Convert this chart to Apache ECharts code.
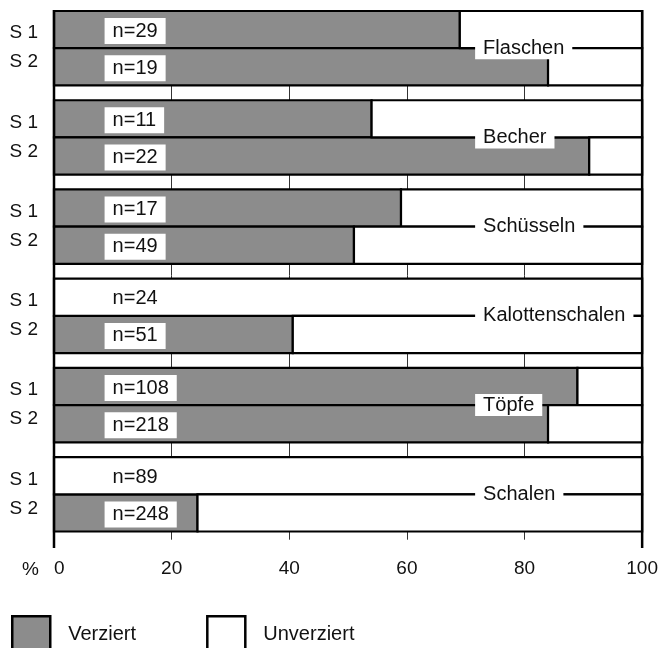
<!DOCTYPE html>
<html>
<head>
<meta charset="utf-8">
<script src="https://cdn.jsdelivr.net/npm/echarts@6/dist/echarts.min.js"></script>
<style>
html,body{margin:0;padding:0;background:#fff;}
#chart{width:661px;height:648px;}
</style>
</head>
<body>
<div id="chart"></div>
<script>
// ---- data ----
const categories = ['Flaschen', 'Becher', 'Schüsseln', 'Kalottenschalen', 'Töpfe', 'Schalen'];
const samples = ['S 1', 'S 2'];
const verziertS1 = [69, 54, 59, 0, 89, 0];
const verziertS2 = [84, 91, 51, 40.6, 84, 24.4];
const nS1 = [29, 11, 17, 24, 108, 89];
const nS2 = [19, 22, 49, 51, 218, 248];
const legendNames = ['Verziert', 'Unverziert'];
const axisUnit = '%';

// ---- layout helpers ----
const BAR = 5, SEP = 2, GROUP = 2 * BAR + SEP;
const TOTAL = categories.length * GROUP - SEP;
const GRAY = '#8c8c8c';
const FONT = '"Liberation Sans", Arial, Helvetica, sans-serif';

const rows = [];
categories.forEach((c, g) => {
  rows.push([g, 0, verziertS1[g], nS1[g]]);
  rows.push([g, 1, verziertS2[g], nS2[g]]);
});

function barRect(api, x0, x1, fill) {
  const g = api.value(0), s = api.value(1);
  const y0 = g * GROUP + s * BAR;
  const a = api.coord([x0, y0]);
  const b = api.coord([x1, y0 + BAR]);
  if (b[0] - a[0] <= 0.01) return { type: 'group', children: [] };
  return {
    type: 'rect',
    shape: { x: a[0], y: a[1], width: b[0] - a[0], height: b[1] - a[1] },
    style: { fill: fill, stroke: '#000', lineWidth: 2.2 }
  };
}

const chart = echarts.init(document.getElementById('chart'), null, { renderer: 'canvas' });
chart.setOption({
  animation: false,
  backgroundColor: '#fff',
  grid: { left: 54, right: 15, top: 11, bottom: 108.3 },
  xAxis: {
    type: 'value', min: 0, max: 100, interval: 20,
    axisLine: { show: false }, axisTick: { show: false },
    splitLine: { show: true, lineStyle: { color: '#333', width: 1 } },
    axisLabel: { margin: 20, fontSize: 19, color: '#111', fontFamily: FONT, alignMinLabel: 'left' }
  },
  yAxis: { type: 'value', min: 0, max: 71.1, inverse: true, show: false },
  legend: {
    left: 6, top: 610, itemWidth: 38, itemHeight: 37, itemGap: 70,
    textStyle: { fontSize: 20, color: '#111', fontFamily: FONT, padding: [0, 0, 0, 13] },
    data: [
      { name: legendNames[0], icon: 'rect', itemStyle: { color: GRAY, borderColor: '#000', borderWidth: 2.5 } },
      { name: legendNames[1], icon: 'rect', itemStyle: { color: '#fff', borderColor: '#000', borderWidth: 2.5 } }
    ]
  },
  graphic: [{
    type: 'text', left: 22, top: 560,
    style: { text: axisUnit, font: '19px ' + FONT, fill: '#111' }
  }],
  series: [
    {
      name: legendNames[0], type: 'custom', z: 3,
      itemStyle: { color: GRAY, borderColor: '#000', borderWidth: 2.5 },
      encode: { x: 2, y: 0 },
      data: rows,
      renderItem: (params, api) => barRect(api, 0, api.value(2), GRAY)
    },
    {
      name: legendNames[1], type: 'custom', z: 3,
      itemStyle: { color: '#fff', borderColor: '#000', borderWidth: 2.5 },
      encode: { x: 2, y: 0 },
      data: rows,
      renderItem: (params, api) => barRect(api, api.value(2), 100, '#fff')
    },
    {
      name: 'n', type: 'custom', z: 5, silent: true,
      encode: { x: 2, y: 0 },
      data: rows,
      renderItem: (params, api) => {
        const g = api.value(0), s = api.value(1), n = api.value(3);
        const yc = api.coord([8.6, g * GROUP + s * BAR + BAR / 2]);
        const yb = api.coord([0, g * GROUP + BAR]);
        return {
          type: 'group',
          children: [
            {
              type: 'text',
              style: {
                text: 'n=' + n, x: yc[0], y: yc[1] + 1.5, align: 'left', verticalAlign: 'middle',
                font: '20px ' + FONT, fill: '#111', backgroundColor: '#fff', padding: [4, 8, 2, 8]
              }
            },
            {
              type: 'text',
              style: {
                text: samples[s], x: yb[0] - 16, y: yb[1] + (s === 0 ? -15 : 14),
                align: 'right', verticalAlign: 'middle', font: '19px ' + FONT, fill: '#111'
              }
            }
          ]
        };
      }
    },
    {
      name: 'groups', type: 'custom', z: 6, silent: true,
      encode: { x: 1, y: 0 },
      data: categories.map((c, i) => [i, 71.6]),
      renderItem: (params, api) => {
        const g = api.value(0);
        const p = api.coord([api.value(1), g * GROUP + BAR]);
        const children = [{
          type: 'text',
          style: {
            text: categories[g], x: p[0], y: p[1], align: 'left', verticalAlign: 'middle',
            font: '20px ' + FONT, fill: '#111', backgroundColor: '#fff', padding: [1, 8, 1, 8]
          }
        }];
        if (g === 0) {
          const t0 = api.coord([0, 0]), b0 = api.coord([0, TOTAL]);
          const t1 = api.coord([100, 0]);
          children.push({ type: 'line', shape: { x1: t0[0], y1: t0[1] - 1, x2: t0[0], y2: b0[1] + 16.5 }, style: { stroke: '#000', lineWidth: 2.5 } });
          children.push({ type: 'line', shape: { x1: t1[0], y1: t1[1] - 1, x2: t1[0], y2: b0[1] + 16.5 }, style: { stroke: '#000', lineWidth: 2.5 } });
        }
        return { type: 'group', children };
      }
    }
  ]
});
</script>
</body>
</html>
